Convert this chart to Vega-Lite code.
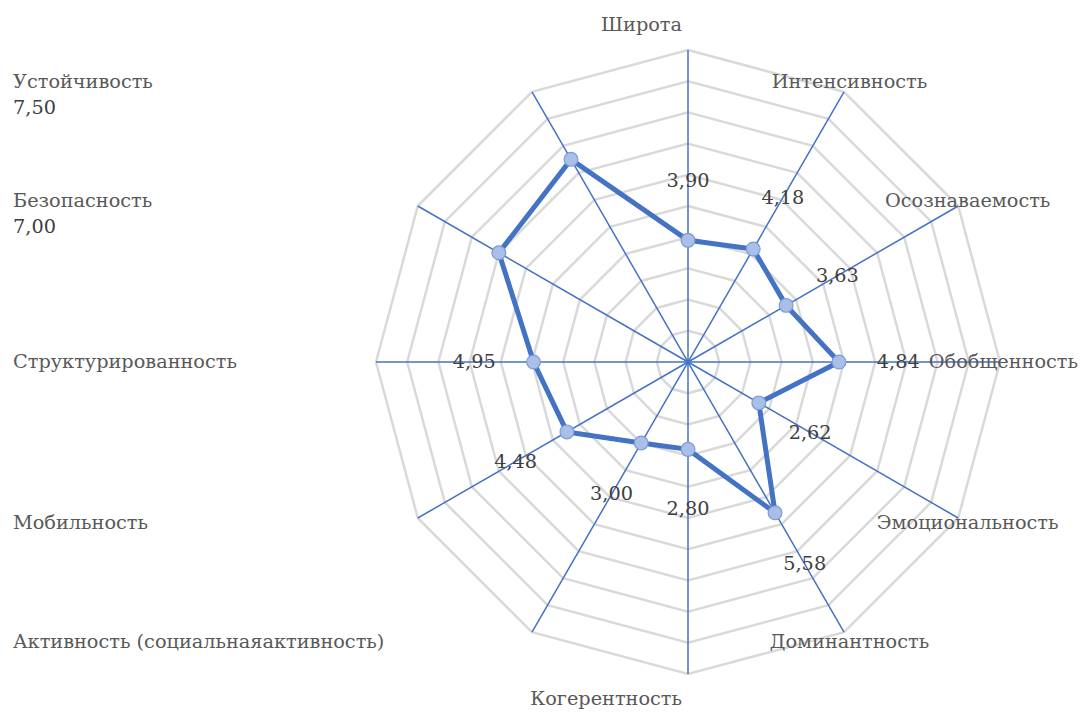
{
  "$schema": "https://vega.github.io/schema/vega-lite/v6.json",
  "width": 1083,
  "height": 713,
  "autosize": {"type": "none"},
  "padding": 0,
  "background": "white",
  "config": {
    "view": {"stroke": null},
    "locale": {"number": {"decimal": ",", "thousands": " ", "grouping": [3], "currency": ["", ""]}},
    "text": {"font": "DejaVu Serif", "fontSize": 19.3}
  },
  "data": {
    "values": [
      {"category": "Широта", "value": 3.90},
      {"category": "Интенсивность", "value": 4.18},
      {"category": "Осознаваемость", "value": 3.63},
      {"category": "Обобщенность", "value": 4.84},
      {"category": "Эмоциональность", "value": 2.62},
      {"category": "Доминантность", "value": 5.58},
      {"category": "Когерентность", "value": 2.80},
      {"category": "Активность (социальнаяактивность)", "value": 3.00},
      {"category": "Мобильность", "value": 4.48},
      {"category": "Структурированность", "value": 4.95},
      {"category": "Безопасность", "value": 7.00},
      {"category": "Устойчивость", "value": 7.50}
    ]
  },
  "transform": [
    {"window": [{"op": "row_number", "as": "idx"}]},
    {"calculate": "(datum.idx - 1) * PI / 6", "as": "a"},
    {"calculate": "sin(datum.a)", "as": "s"},
    {"calculate": "cos(datum.a)", "as": "c"},
    {"calculate": "datum.value * datum.s", "as": "px"},
    {"calculate": "datum.value * datum.c", "as": "py"}
  ],
  "layer": [
    {
      "transform": [
        {"calculate": "[1,2,3,4,5,6,7,8,9,10]", "as": "lv"},
        {"flatten": ["lv"]},
        {"calculate": "datum.lv * datum.s", "as": "gx"},
        {"calculate": "datum.lv * datum.c", "as": "gy"}
      ],
      "mark": {"type": "line", "interpolate": "linear-closed", "color": "#d9d9d9", "strokeWidth": 2.5},
      "encoding": {
        "x": {"field": "gx", "type": "quantitative", "scale": {"domain": [-22.051, 12.66], "nice": false, "zero": false}, "axis": null},
        "y": {"field": "gy", "type": "quantitative", "scale": {"domain": [-11.25, 11.603], "nice": false, "zero": false}, "axis": null},
        "detail": {"field": "lv", "type": "ordinal"},
        "order": {"field": "idx", "type": "quantitative"}
      }
    },
    {
      "transform": [
        {"calculate": "10 * datum.s", "as": "ex"},
        {"calculate": "10 * datum.c", "as": "ey"},
        {"calculate": "0", "as": "z"}
      ],
      "mark": {"type": "rule", "color": "#4472c4", "strokeWidth": 1.5},
      "encoding": {
        "x": {"field": "z", "type": "quantitative", "scale": {"domain": [-22.051, 12.66], "nice": false, "zero": false}, "axis": null},
        "y": {"field": "z", "type": "quantitative", "scale": {"domain": [-11.25, 11.603], "nice": false, "zero": false}, "axis": null},
        "x2": {"field": "ex"},
        "y2": {"field": "ey"}
      }
    },
    {
      "mark": {"type": "line", "interpolate": "linear-closed", "color": "#4472c4", "strokeWidth": 5},
      "encoding": {
        "x": {"field": "px", "type": "quantitative", "scale": {"domain": [-22.051, 12.66], "nice": false, "zero": false}, "axis": null},
        "y": {"field": "py", "type": "quantitative", "scale": {"domain": [-11.25, 11.603], "nice": false, "zero": false}, "axis": null},
        "order": {"field": "idx", "type": "quantitative"}
      }
    },
    {
      "mark": {"type": "point", "filled": true, "shape": "circle", "size": 190, "fill": "#a9bfe8", "stroke": "#7b9bd6", "strokeWidth": 1.2, "opacity": 1},
      "encoding": {
        "x": {"field": "px", "type": "quantitative", "scale": {"domain": [-22.051, 12.66], "nice": false, "zero": false}, "axis": null},
        "y": {"field": "py", "type": "quantitative", "scale": {"domain": [-11.25, 11.603], "nice": false, "zero": false}, "axis": null}
      }
    },
    {
      "transform": [
        {"filter": "!(datum.s < -0.01 && datum.c > 0.01)"},
        {"calculate": "datum.px + 1.9 * datum.s", "as": "lx"},
        {"calculate": "datum.py + 1.9 * datum.c", "as": "ly"}
      ],
      "mark": {"type": "text", "align": "center", "baseline": "middle", "color": "#404040"},
      "encoding": {
        "x": {"field": "lx", "type": "quantitative", "scale": {"domain": [-22.051, 12.66], "nice": false, "zero": false}, "axis": null},
        "y": {"field": "ly", "type": "quantitative", "scale": {"domain": [-11.25, 11.603], "nice": false, "zero": false}, "axis": null},
        "text": {"field": "value", "type": "quantitative", "format": ".2f"}
      }
    },
    {
      "transform": [
        {"filter": "datum.s < -0.01 && datum.c > 0.01"},
        {"calculate": "10.35 * datum.c", "as": "ly"},
        {"calculate": "-21.635", "as": "lx"}
      ],
      "mark": {"type": "text", "align": "left", "baseline": "middle", "dy": 26, "color": "#404040"},
      "encoding": {
        "x": {"field": "lx", "type": "quantitative", "scale": {"domain": [-22.051, 12.66], "nice": false, "zero": false}, "axis": null},
        "y": {"field": "ly", "type": "quantitative", "scale": {"domain": [-11.25, 11.603], "nice": false, "zero": false}, "axis": null},
        "text": {"field": "value", "type": "quantitative", "format": ".2f"}
      }
    },
    {
      "transform": [
        {"filter": "datum.s < -0.01"},
        {"calculate": "10.35 * datum.c", "as": "ly"},
        {"calculate": "-21.635", "as": "lx"}
      ],
      "mark": {"type": "text", "align": "left", "baseline": "middle", "color": "#595959"},
      "encoding": {
        "x": {"field": "lx", "type": "quantitative", "scale": {"domain": [-22.051, 12.66], "nice": false, "zero": false}, "axis": null},
        "y": {"field": "ly", "type": "quantitative", "scale": {"domain": [-11.25, 11.603], "nice": false, "zero": false}, "axis": null},
        "text": {"field": "category", "type": "nominal"}
      }
    },
    {
      "transform": [
        {"filter": "datum.s > 0.01 && datum.s < 0.99"},
        {"calculate": "10.35 * datum.s", "as": "lx"},
        {"calculate": "10.35 * datum.c", "as": "ly"}
      ],
      "mark": {"type": "text", "align": "center", "baseline": "middle", "color": "#595959"},
      "encoding": {
        "x": {"field": "lx", "type": "quantitative", "scale": {"domain": [-22.051, 12.66], "nice": false, "zero": false}, "axis": null},
        "y": {"field": "ly", "type": "quantitative", "scale": {"domain": [-11.25, 11.603], "nice": false, "zero": false}, "axis": null},
        "text": {"field": "category", "type": "nominal"}
      }
    },
    {
      "transform": [
        {"filter": "datum.s >= 0.99"},
        {"calculate": "12.5", "as": "lx"},
        {"calculate": "0", "as": "ly"}
      ],
      "mark": {"type": "text", "align": "right", "baseline": "middle", "color": "#595959"},
      "encoding": {
        "x": {"field": "lx", "type": "quantitative", "scale": {"domain": [-22.051, 12.66], "nice": false, "zero": false}, "axis": null},
        "y": {"field": "ly", "type": "quantitative", "scale": {"domain": [-11.25, 11.603], "nice": false, "zero": false}, "axis": null},
        "text": {"field": "category", "type": "nominal"}
      }
    },
    {
      "transform": [
        {"filter": "abs(datum.s) < 0.01"},
        {"calculate": "10.8 * datum.c", "as": "ly"},
        {"calculate": "0", "as": "lx"}
      ],
      "mark": {"type": "text", "align": "right", "baseline": "middle", "dx": -6, "color": "#595959"},
      "encoding": {
        "x": {"field": "lx", "type": "quantitative", "scale": {"domain": [-22.051, 12.66], "nice": false, "zero": false}, "axis": null},
        "y": {"field": "ly", "type": "quantitative", "scale": {"domain": [-11.25, 11.603], "nice": false, "zero": false}, "axis": null},
        "text": {"field": "category", "type": "nominal"}
      }
    }
  ]
}
